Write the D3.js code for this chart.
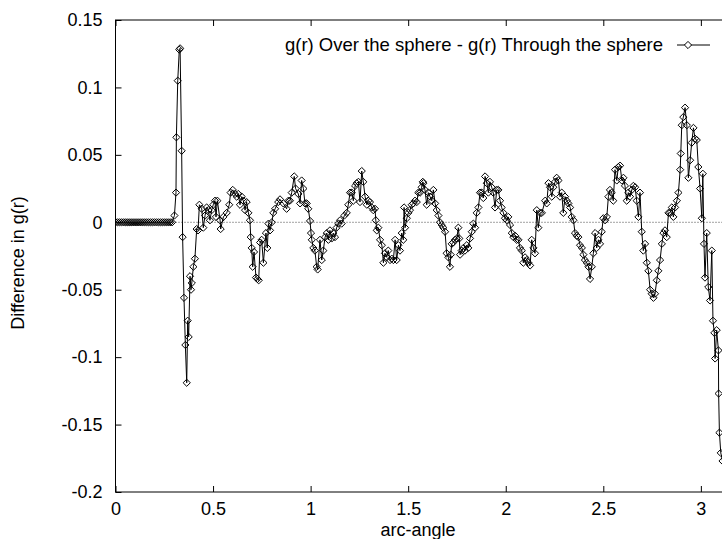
<!DOCTYPE html>
<html>
<head>
<meta charset="utf-8">
<script src="https://cdn.jsdelivr.net/npm/d3@7"></script>
<style>
body{margin:0;background:#fff}
svg{display:block;font-family:"Liberation Sans",Arial,sans-serif}
</style>
</head>
<body>
<div id="chart"></div>
<script>
const xTicks = [0,0.5,1,1.5,2,2.5,3]
const yTicks = [-0.2,-0.15,-0.1,-0.05,0,0.05,0.1,0.15]
const legendLabel = "g(r) Over the sphere - g(r) Through the sphere"
const xTitle = "arc-angle"
const yTitle = "Difference in g(r)"

// [arc-angle, difference in g(r)]
const flatPart = [[0,0],[0.01,0],[0.02,0],[0.03,0],[0.04,0],[0.05,0],[0.06,0],[0.07,0],[0.08,0],[0.09,0],
  [0.10,0],[0.11,0],[0.12,0],[0.13,0],[0.14,0],[0.15,0],[0.16,0],[0.17,0],[0.18,0],[0.19,0],
  [0.20,0],[0.21,0],[0.22,0],[0.23,0],[0.24,0],[0.25,0],[0.26,0],[0.27,0],[0.28,0],[0.29,0]]

const spikePart = [[0.302,0.005],[0.310,0.022],[0.312,0.063],[0.319,0.105],[0.327,0.128],[0.331,0.129],
  [0.339,0.053],[0.344,-0.011],[0.351,-0.056],[0.358,-0.091],[0.365,-0.119],[0.370,-0.073],[0.375,-0.085],
  [0.382,-0.040],[0.387,-0.050],[0.391,-0.045],[0.399,-0.033],[0.407,-0.027],[0.416,-0.005],[0.423,-0.006]]

const wavePart = [[0.430,0.013],[0.442,0.010],[0.450,-0.004],[0.459,0.005],[0.467,0.011],[0.476,0.009],
  [0.484,0.0015],[0.493,0.009],[0.501,0.013],[0.510,0.016],[0.515,0.004],[0.522,0.016],[0.536,0.0015],
  [0.539,-0.005],[0.553,0.004],[0.570,0.007],[0.583,0.013],[0.590,0.022],[0.601,0.024],[0.613,0.021],
  [0.621,0.019],[0.629,0.021],[0.638,0.013],[0.647,0.019],[0.655,0.016],[0.664,0.009],[0.672,0.015],
  [0.681,0.007],[0.689,0.0015],[0.693,-0.011],[0.698,-0.019],[0.703,-0.033],[0.710,-0.022],[0.720,-0.041],
  [0.727,-0.042],[0.734,-0.043],[0.741,-0.015],[0.749,-0.013],[0.758,-0.030],[0.771,-0.008],[0.778,-0.019],
  [0.784,-0.001],[0.792,-0.006],[0.801,0.000],[0.809,0.007],[0.818,0.010],[0.834,0.015],[0.843,0.017],
  [0.860,0.014],[0.877,0.010],[0.886,0.016],[0.894,0.016],[0.903,0.022],[0.916,0.034],[0.923,0.025],
  [0.937,0.021],[0.946,0.014],[0.954,0.031],[0.963,0.025],[0.971,0.014],[0.980,0.014],[0.988,0.010],
  [0.997,0.001],[1.002,-0.008],[1.006,-0.013],[1.014,-0.019],[1.022,-0.021],[1.031,-0.033],[1.036,-0.035],
  [1.048,-0.013],[1.057,-0.028],[1.065,-0.021],[1.074,-0.011],[1.083,-0.008],[1.091,-0.013],[1.099,-0.006],
  [1.108,-0.012],[1.116,-0.008],[1.125,-0.011],[1.133,-0.004],[1.142,-0.001],[1.151,0.0015],[1.159,-0.001],
  [1.173,0.005],[1.185,0.007],[1.193,0.013],[1.202,0.022],[1.211,0.022],[1.219,0.016],[1.228,0.027],
  [1.236,0.029],[1.245,0.030],[1.253,0.015],[1.262,0.038],[1.270,0.030],[1.279,0.019],[1.288,0.013],
  [1.296,0.016],[1.304,0.015],[1.313,0.011],[1.321,0.009],[1.330,0.010],[1.334,0.0015],[1.339,-0.006],
  [1.347,-0.004],[1.356,-0.013],[1.365,-0.017],[1.373,-0.030],[1.381,-0.023],[1.390,-0.026],[1.398,-0.021],
  [1.407,-0.028],[1.416,-0.027],[1.424,-0.028],[1.433,-0.013],[1.441,-0.028],[1.450,-0.017],[1.458,-0.021],
  [1.467,-0.008],[1.475,-0.013],[1.479,0.011],[1.484,-0.004],[1.493,0.003],[1.501,0.007],[1.509,0.009],
  [1.518,0.013],[1.526,0.014],[1.535,0.016],[1.544,0.015],[1.552,0.022],[1.561,0.022],[1.569,0.026],
  [1.575,0.030],[1.578,0.029],[1.586,0.024],[1.595,0.013],[1.603,0.022],[1.612,0.019],[1.621,0.016],
  [1.629,0.024],[1.638,0.014],[1.646,0.009],[1.655,0.005],[1.663,0.000],[1.672,-0.002],[1.680,-0.004],
  [1.689,-0.007],[1.697,-0.023],[1.706,-0.026],[1.714,-0.033],[1.718,-0.024],[1.723,-0.016],[1.731,-0.015],
  [1.740,-0.013],[1.749,-0.012],[1.757,-0.004],[1.762,-0.012],[1.766,-0.024],[1.774,-0.021],[1.783,-0.019],
  [1.791,-0.021],[1.800,-0.017],[1.808,-0.019],[1.817,-0.012],[1.826,-0.007],[1.834,-0.001],[1.843,-0.004],
  [1.851,0.007],[1.860,0.011],[1.868,0.022],[1.877,0.022],[1.885,0.018],[1.894,0.034],[1.903,0.029],
  [1.911,0.022],[1.919,0.030],[1.928,0.026],[1.936,0.022],[1.945,0.011],[1.954,0.024],[1.962,0.024],
  [1.971,0.016],[1.979,0.011],[1.988,0.007],[1.996,0.003],[2.005,0.0015],[2.013,0.004],[2.022,-0.002],
  [2.031,-0.008],[2.039,-0.011],[2.048,-0.010],[2.056,-0.013],[2.065,-0.013],[2.073,-0.019],[2.082,-0.021],
  [2.090,-0.030],[2.099,-0.026],[2.108,-0.028],[2.116,-0.030],[2.125,-0.032],[2.133,-0.013],[2.142,-0.019],
  [2.150,-0.023],[2.159,0.009],[2.167,-0.004],[2.176,0.007],[2.185,0.007],[2.202,0.016],[2.210,0.014],
  [2.219,0.029],[2.227,0.026],[2.236,0.019],[2.244,0.026],[2.253,0.030],[2.261,0.033],[2.270,0.031],
  [2.278,0.019],[2.287,0.022],[2.295,0.007],[2.304,0.019],[2.313,0.016],[2.321,0.014],[2.330,0.011],
  [2.338,0.004],[2.347,0.0015],[2.355,-0.008],[2.364,-0.010],[2.372,-0.011],[2.381,-0.017],[2.390,-0.019],
  [2.398,-0.024],[2.406,-0.028],[2.415,-0.030],[2.424,-0.033],[2.432,-0.042],[2.441,-0.033],[2.449,-0.023],
  [2.458,-0.008],[2.466,-0.019],[2.475,-0.013],[2.483,-0.016],[2.492,-0.007],[2.500,0.003],[2.509,0.0015],
  [2.518,0.004],[2.526,0.019],[2.534,0.024],[2.543,0.022],[2.551,0.016],[2.560,0.039],[2.569,0.031],
  [2.577,0.041],[2.586,0.042],[2.595,0.031],[2.603,0.033],[2.611,0.027],[2.620,0.016],[2.628,0.022],
  [2.637,0.019],[2.646,0.024],[2.654,0.027],[2.663,0.026],[2.671,0.016],[2.680,0.004],[2.688,0.022],
  [2.697,-0.007],[2.705,-0.021],[2.714,-0.016],[2.723,-0.030],[2.731,-0.036],[2.740,-0.050],[2.748,-0.053],
  [2.757,-0.056],[2.765,-0.053],[2.774,-0.043],[2.782,-0.036],[2.791,-0.028],[2.800,-0.016],[2.808,-0.008],
  [2.816,-0.006],[2.825,-0.011],[2.834,0.007],[2.842,0.007],[2.851,0.011],[2.859,0.004],[2.868,0.011],
  [2.877,0.016],[2.885,0.022],[2.894,0.039],[2.897,0.051],[2.902,0.072],[2.910,0.078],[2.919,0.085],
  [2.928,0.072],[2.936,0.033],[2.945,0.046],[2.953,0.059],[2.962,0.070],[2.970,0.062],[2.979,0.061],
  [2.987,0.041],[2.996,0.025],[3.005,0.003],[3.010,0.036]]

const tailPart = [[3.016,-0.016],[3.021,-0.041],[3.030,-0.008],[3.038,-0.048],[3.047,-0.058],[3.056,-0.021],
  [3.062,-0.073],[3.069,-0.082],[3.073,-0.101],[3.081,-0.080],[3.090,-0.095],[3.091,-0.127],[3.095,-0.156],
  [3.102,-0.171],[3.111,-0.177],[3.125,-0.170]]

drawChart(flatPart.concat(spikePart, wavePart, tailPart), "#chart")

function drawChart(data,id){
    const canvas = createCanvas()
    const svg = addSvg(id,canvas)
    const sc = addScales(canvas)

    addAxes(svg,sc,canvas)
    addSeries(svg,sc,canvas,data)
    addLegend(svg)
    addTitles(svg,canvas)
}

function createCanvas(){
    return{
        width: 722, height: 539, margin:{top: 20, bottom: 47, right: -6.5, left: 115.5}
    }
}

function addSvg(id,canvas){
    return d3.select(id).append("svg")
      .attr("width",canvas.width).attr("height",canvas.height)
      .style("background","#fff")
}

function addScales(canvas){
    const xScale = d3.scaleLinear().domain([0,Math.PI])
      .range([canvas.margin.left,canvas.width - canvas.margin.right])
    const yScale = d3.scaleLinear().domain([-0.2,0.15])
      .range([canvas.height - canvas.margin.bottom,canvas.margin.top])
    return {xScale,yScale}
}

function addAxes(svg,sc,canvas){
    const bottom = canvas.height - canvas.margin.bottom
    const fmt = d => String(d)

    svg.append("g").attr("transform",`translate(0,${bottom})`)
      .call(d3.axisBottom(sc.xScale).tickValues(xTicks).tickFormat(fmt).tickSizeInner(-6).tickSizeOuter(0).tickPadding(10))
    svg.append("g").attr("transform",`translate(0,${canvas.margin.top})`)
      .call(d3.axisTop(sc.xScale).tickValues(xTicks).tickFormat("").tickSizeInner(-6).tickSizeOuter(0))
    svg.append("g").attr("transform",`translate(${canvas.margin.left},0)`)
      .call(d3.axisLeft(sc.yScale).tickValues(yTicks).tickFormat(fmt).tickSizeInner(-6).tickSizeOuter(0).tickPadding(13))

    svg.selectAll(".domain").remove()
    svg.selectAll(".tick line").attr("stroke","#000")
    svg.selectAll(".tick text").attr("fill","#000").style("font-size","18px").style("font-family","'Liberation Sans',Arial,sans-serif")

    // zero line
    svg.append("line")
      .attr("x1",sc.xScale.range()[0]).attr("x2",sc.xScale.range()[1])
      .attr("y1",sc.yScale(0)).attr("y2",sc.yScale(0))
      .attr("stroke","#444").attr("stroke-dasharray","1,2")

    svg.append("rect")
      .attr("x",sc.xScale.range()[0]).attr("y",canvas.margin.top)
      .attr("width",sc.xScale.range()[1]-sc.xScale.range()[0])
      .attr("height",bottom-canvas.margin.top)
      .attr("fill","none").attr("stroke","#000")
}

function addSeries(svg,sc,canvas,data){
    svg.append("clipPath").attr("id","plotclip").append("rect")
      .attr("x",sc.xScale.range()[0]).attr("y",canvas.margin.top)
      .attr("width",sc.xScale.range()[1]-sc.xScale.range()[0])
      .attr("height",canvas.height - canvas.margin.bottom - canvas.margin.top)

    const g = svg.append("g").attr("clip-path","url(#plotclip)")
    const line = d3.line().x(d => sc.xScale(d[0])).y(d => sc.yScale(d[1]))

    g.append("path").datum(data).attr("d",line)
      .attr("fill","none").attr("stroke","#000").attr("stroke-width",1)

    g.selectAll(".pt").data(data).join("path").attr("class","pt")
      .attr("transform",d => `translate(${sc.xScale(d[0])},${sc.yScale(d[1])})`)
      .attr("d","M0,-3.6L3.6,0L0,3.6L-3.6,0Z")
      .attr("fill","none").attr("stroke","#000").attr("stroke-width",1)
}

function addLegend(svg){
    svg.append("text").attr("x",663).attr("y",45).attr("dy","0.35em")
      .attr("text-anchor","end").style("font-size","18.5px").text(legendLabel)
    svg.append("line").attr("x1",677).attr("x2",710).attr("y1",45).attr("y2",45)
      .attr("stroke","#000")
    svg.append("path").attr("transform","translate(688,45)")
      .attr("d","M0,-3.6L3.6,0L0,3.6L-3.6,0Z").attr("fill","#fff").attr("stroke","#000")
}

function addTitles(svg,canvas){
    svg.append("text").attr("x",418).attr("y",536)
      .attr("text-anchor","middle").style("font-size","18px").text(xTitle)
    svg.append("text").attr("transform","translate(24,263) rotate(-90)")
      .attr("text-anchor","middle").style("font-size","18px").text(yTitle)
}
</script>
</body>
</html>
